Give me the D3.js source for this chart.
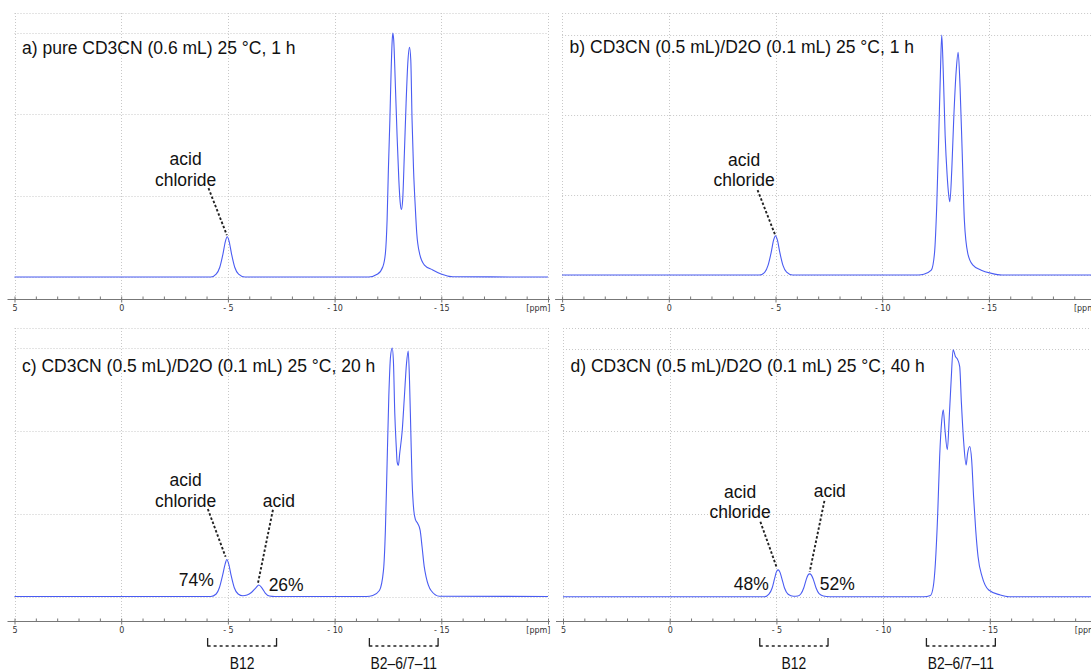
<!DOCTYPE html>
<html>
<head>
<meta charset="utf-8">
<script src="https://cdn.jsdelivr.net/npm/d3@7"></script>
<style>
body { margin: 0; background: #fff; }
svg { display: block; font-family: "Liberation Sans", Arial, sans-serif; }
</style>
</head>
<body>
<svg id="chart" width="1091" height="671"></svg>
<script>
var titles = [
    "a) pure CD3CN (0.6 mL) 25 °C, 1 h",
    "b) CD3CN (0.5 mL)/D2O (0.1 mL) 25 °C, 1 h",
    "c) CD3CN (0.5 mL)/D2O (0.1 mL) 25 °C, 20 h",
    "d) CD3CN (0.5 mL)/D2O (0.1 mL) 25 °C, 40 h"
];
var majorTicks = [5, 0, -5, -10, -15, -20];
var yGrid = [0, 33.33, 66.67, 100];

// [ppm, relative intensity]
var specA = [[5, 0], [-4.2, 0], [-4.45, 1.2], [-4.62, 4], [-4.77, 9.5], [-4.88, 14.5], [-4.97, 16.5], [-5.06, 14.5],
    [-5.17, 9.5], [-5.32, 4], [-5.5, 1.2], [-5.8, 0], [-11.6, 0], [-12.02, 1.2], [-12.26, 4.2], [-12.38, 9.7],
    [-12.46, 23.4], [-12.52, 43.9], [-12.59, 64.3], [-12.65, 84.8], [-12.7, 97.1], [-12.73, 100], [-12.77, 97.1],
    [-12.85, 78], [-12.93, 57.5], [-13.01, 39.8], [-13.07, 30.9], [-13.13, 27.7], [-13.19, 31.6], [-13.27, 50.7],
    [-13.35, 71.2], [-13.43, 87.6], [-13.51, 94.1], [-13.57, 88.9], [-13.63, 64.3], [-13.7, 43.9], [-13.78, 28.8],
    [-13.85, 17.9], [-13.98, 9.7], [-14.21, 4.9], [-14.6, 2.9], [-14.99, 1.2], [-15.54, 0.1], [-20, 0]];
var specB = [[5, 0], [-4.25, 0], [-4.5, 1.2], [-4.65, 4], [-4.8, 9.5], [-4.91, 14.5], [-5.0, 16.3], [-5.09, 14.5],
    [-5.2, 9.5], [-5.35, 4], [-5.52, 1.2], [-5.8, 0], [-11.7, 0], [-11.95, 0.3], [-12.3, 2], [-12.45, 9],
    [-12.56, 30], [-12.65, 58], [-12.73, 85], [-12.79, 100], [-12.86, 85], [-12.95, 58], [-13.04, 42], [-13.12, 33],
    [-13.17, 30.5], [-13.26, 43.7], [-13.35, 64.6], [-13.47, 85.4], [-13.56, 92.8], [-13.65, 78], [-13.75, 50.7],
    [-13.85, 22.9], [-14.01, 9], [-14.24, 4.2], [-14.64, 2], [-15.11, 0.7], [-15.6, 0], [-20, 0]];
var specC = [[5, 0], [-4.2, 0], [-4.45, 1], [-4.6, 3.5], [-4.75, 8.5], [-4.87, 13], [-4.95, 14.9], [-5.04, 13],
    [-5.15, 8.5], [-5.3, 3.5], [-5.48, 1], [-5.7, 0.3], [-5.9, 0.6], [-6.1, 1.6], [-6.3, 3.4], [-6.45, 4.6],
    [-6.6, 3.4], [-6.75, 1.4], [-6.95, 0.2], [-7.2, 0], [-11.5, 0], [-11.79, 0.4], [-12.1, 2.4], [-12.29, 10.5],
    [-12.38, 26.6], [-12.46, 53.5], [-12.54, 80.4], [-12.62, 96.5], [-12.7, 100], [-12.76, 93.8], [-12.82, 73.7],
    [-12.89, 60.2], [-12.93, 54.2], [-12.99, 52.8], [-13.05, 57.5], [-13.17, 66.9], [-13.27, 80.4], [-13.37, 93.8],
    [-13.45, 98.8], [-13.51, 87], [-13.57, 66.9], [-13.63, 46.8], [-13.71, 34.7], [-13.79, 30.9], [-13.9, 29.3],
    [-14.01, 26.6], [-14.1, 19.9], [-14.2, 12], [-14.29, 7.8], [-14.52, 2.4], [-14.91, 0.1], [-20, 0]];
var specD = [[5, 0], [-4.45, 0], [-4.65, 1], [-4.8, 3.5], [-4.92, 7.5], [-5.0, 10], [-5.08, 10.8], [-5.16, 10],
    [-5.25, 7.5], [-5.38, 3.5], [-5.55, 1], [-5.8, 0.2], [-6.0, 0.3], [-6.15, 1.2], [-6.28, 3.5], [-6.4, 7],
    [-6.48, 8.7], [-6.56, 9.2], [-6.64, 8.7], [-6.73, 7], [-6.86, 3.5], [-7.0, 1.2], [-7.2, 0.3], [-7.5, 0],
    [-11.9, 0], [-12.22, 0.5], [-12.35, 4], [-12.45, 13.5], [-12.56, 33.6], [-12.65, 56.4], [-12.75, 71.2],
    [-12.82, 75.3], [-12.9, 67.2], [-13.01, 59.2], [-13.11, 74], [-13.19, 87.4], [-13.28, 99.5], [-13.39, 96.8],
    [-13.5, 95.4], [-13.59, 92.7], [-13.67, 78], [-13.78, 61.9], [-13.89, 53.1], [-13.96, 57.8], [-14.06, 60.5],
    [-14.15, 55.1], [-14.24, 40.3], [-14.34, 26.9], [-14.45, 16.1], [-14.64, 8.1], [-14.95, 2.7], [-15.49, 0.7],
    [-15.9, 0], [-20, 0]];

// annotation texts anchored at [ppm, intensity]
var labelsA = [["acid", -3.02, 48.6], ["chloride", -3.02, 39.8]];
var labelsB = [["acid", -3.53, 47.9], ["chloride", -3.53, 39.6]];
var labelsC = [["acid", -3.02, 47], ["chloride", -3.02, 38.6], ["acid", -7.39, 38.6], ["74%", -3.52, 6.7], ["26%", -7.73, 4.6]];
var labelsD = [["acid", -3.3, 42.3], ["chloride", -3.3, 34], ["acid", -7.5, 42.7], ["48%", -3.82, 5.3], ["52%", -7.85, 5.3]];
var leadersA = [[[-4.09, 36.4], [-4.95, 17.2]]];
var leadersB = [[[-4.16, 35.4], [-5.0, 16.3]]];
var leadersC = [[[-4.06, 35.2], [-4.89, 16]], [[-7.11, 34.9], [-6.4, 5]]];
var leadersD = [[[-4.25, 30.2], [-5.03, 11.4]], [[-7.25, 38.6], [-6.56, 10]]];
var bracketsC = [["B12", -4.05, -7.28], ["B2–6/7–11", -11.63, -14.85]];
var bracketsD = [["B12", -4.22, -7.42], ["B2–6/7–11", -12.03, -15.26]];

var panels = [
    { title: titles[0], spec: specA, labels: labelsA, leaders: leadersA, brackets: [], left: 14.5, frame: 13, top: 33, base: 277, axis: 299, titleY: 53.5 },
    { title: titles[1], spec: specB, labels: labelsB, leaders: leadersB, brackets: [], left: 562.1, frame: 13, top: 35, base: 275, axis: 299, titleY: 52.5 },
    { title: titles[2], spec: specC, labels: labelsC, leaders: leadersC, brackets: bracketsC, left: 14.5, frame: 328, top: 348, base: 596.5, axis: 621, titleY: 371.5 },
    { title: titles[3], spec: specD, labels: labelsD, leaders: leadersD, brackets: bracketsD, left: 563, frame: 328, top: 348.5, base: 596.7, axis: 621, titleY: 371.5 }
];

var svg = d3.select("#chart");

panels.forEach(function (p) {
    var x = d3.scaleLinear().domain([5, -20]).range([p.left, p.left + 533.5]);
    var y = d3.scaleLinear().domain([0, 100]).range([p.base, p.top]);
    var g = svg.append("g");

    var grid = g.append("g")
        .attr("stroke", "#c8c8c8")
        .attr("stroke-width", 1)
        .attr("stroke-dasharray", "1,2");
    grid.selectAll(".h").data(yGrid).enter().append("line")
        .attr("x1", x(5)).attr("x2", x(-20))
        .attr("y1", function (d) { return Math.round(y(d)) + 0.5; })
        .attr("y2", function (d) { return Math.round(y(d)) + 0.5; });
    grid.append("line")
        .attr("x1", x(5)).attr("x2", x(-20))
        .attr("y1", p.frame + 0.5).attr("y2", p.frame + 0.5);
    grid.selectAll(".v").data(majorTicks).enter().append("line")
        .attr("x1", function (d) { return Math.round(x(d)) + 0.5; })
        .attr("x2", function (d) { return Math.round(x(d)) + 0.5; })
        .attr("y1", p.frame).attr("y2", p.axis);

    // axis
    g.append("line")
        .attr("x1", x(5) - 7).attr("x2", x(-20) + 2)
        .attr("y1", p.axis + 0.5).attr("y2", p.axis + 0.5)
        .attr("stroke", "#777");
    var minor = g.append("g")
        .attr("transform", "translate(0," + (p.axis + 0.5) + ")")
        .call(d3.axisTop(x).tickValues(d3.range(5, -20.5, -1)).tickSize(3).tickSizeOuter(0).tickFormat(""));
    minor.select(".domain").remove();
    minor.selectAll(".tick line").attr("stroke", "#777");

    var major = g.append("g")
        .attr("transform", "translate(0," + (p.axis + 0.5) + ")")
        .call(d3.axisBottom(x).tickValues(majorTicks).tickSize(3).tickSizeOuter(0).tickPadding(3)
            .tickFormat(function (d) {
                if (d === -20) return "[ppm]";
                return d < 0 ? "- " + (-d) : String(d);
            }));
    major.select(".domain").remove();
    major.selectAll(".tick line").attr("stroke", "#777");
    major.selectAll(".tick text")
        .attr("font-family", "DejaVu Sans, sans-serif")
        .attr("font-size", 8)
        .attr("fill", "#333");
    major.selectAll(".tick text").filter(function (d) { return d === -20; })
        .attr("text-anchor", "end").attr("x", 2);

    // spectrum
    var line = d3.line()
        .x(function (d) { return x(d[0]); })
        .y(function (d) { return y(d[1]); })
        .curve(d3.curveMonotoneX);
    g.append("path")
        .datum(p.spec)
        .attr("d", line)
        .attr("fill", "none")
        .attr("stroke", "#4a5cf2")
        .attr("stroke-width", 1.1);

    g.append("text")
        .attr("x", p.left + 7.5)
        .attr("y", p.titleY)
        .attr("font-size", 17.5)
        .attr("fill", "#111")
        .text(p.title);

    g.selectAll(".lead").data(p.leaders).enter().append("line")
        .attr("x1", function (d) { return x(d[0][0]); })
        .attr("y1", function (d) { return y(d[0][1]); })
        .attr("x2", function (d) { return x(d[1][0]); })
        .attr("y2", function (d) { return y(d[1][1]); })
        .attr("stroke", "#222")
        .attr("stroke-width", 1.9)
        .attr("stroke-dasharray", "2.5,2");

    g.selectAll(".lab").data(p.labels).enter().append("text")
        .attr("x", function (d) { return x(d[1]); })
        .attr("y", function (d) { return y(d[2]); })
        .attr("dy", "0.35em")
        .attr("text-anchor", "middle")
        .attr("font-size", 17.5)
        .attr("fill", "#111")
        .text(function (d) { return d[0]; });

    var br = g.selectAll(".br").data(p.brackets).enter().append("g");
    br.append("line")
        .attr("x1", function (d) { return x(d[1]); })
        .attr("x2", function (d) { return x(d[2]); })
        .attr("y1", p.axis + 25).attr("y2", p.axis + 25)
        .attr("stroke", "#222").attr("stroke-width", 1.3)
        .attr("stroke-dasharray", "3,3");
    br.append("path")
        .attr("d", function (d) {
            return "M" + x(d[1]) + "," + (p.axis + 17) + "V" + (p.axis + 25.6) +
                "M" + x(d[2]) + "," + (p.axis + 17) + "V" + (p.axis + 25.6);
        })
        .attr("stroke", "#222").attr("stroke-width", 1.3).attr("fill", "none");
    br.append("text")
        .attr("transform", function (d) {
            return "translate(" + x((d[1] + d[2]) / 2) + "," + (p.axis + 47.5) + ") scale(0.82,1)";
        })
        .attr("text-anchor", "middle")
        .attr("font-size", 17)
        .attr("fill", "#111")
        .text(function (d) { return d[0]; });
});
</script>
</body>
</html>
